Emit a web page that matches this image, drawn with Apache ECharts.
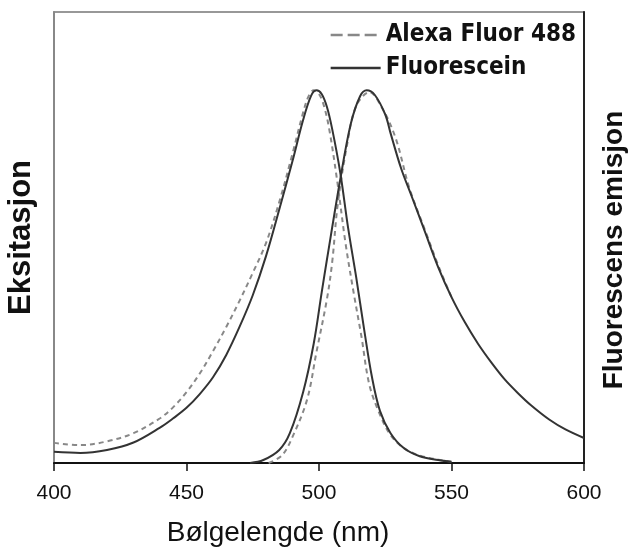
<!DOCTYPE html>
<html>
<head>
<meta charset="utf-8">
<script src="https://cdn.jsdelivr.net/npm/echarts@6/dist/echarts.min.js"></script>
<style>html,body{margin:0;padding:0;background:#fff}#c{width:628px;height:550px}</style>
</head>
<body>
<div id="c"></div>
<script>
// Wavelength ticks
const xTicks = [400, 450, 500, 550, 600];

// Fluorescein excitation (solid)
const fluorExNm  = [400,410,420,430,440,445,450,455,460,465,470,475,480,485,490,494,497,499,501,503,505,508,511,514,517,520,523,527,532,538,545,550];
const fluorExVal = [3.0,2.7,3.5,5.5,9.5,12,14.8,18.5,23,29,36.5,45,55.5,68,81,92,98.5,100,99,95.5,89.5,78,63,50,36,23,14,8,4,1.8,0.8,0.3];

// Alexa Fluor 488 excitation (dashed)
const alexaExNm  = [400,410,420,430,440,445,450,455,460,465,470,475,480,485,490,494,496,498,500,502,504,507,510,513,516,519,523,527,532,538,545,550];
const alexaExVal = [5.4,4.8,5.8,8,12,15,19,24,30,36.5,43.5,51,59,70,83,94,98.3,100,99,95.5,89,75,59,46,34,21,13,7.5,4,2,0.9,0.4];

// Fluorescein emission (solid)
const fluorEmNm  = [474,479,485,489,494,498,501,503,508,512,515.5,518,521,525,527,531,535,540,545,550,555,560,565,570,575,580,587,593,600];
const fluorEmVal = [0,0.8,3.5,8,19,32,45.7,54.6,76,91,98.4,100,98.8,93.5,88.5,79,71.5,62,52.5,44.5,37.8,32,27,22.5,18.8,15.5,11.6,9,6.7];

// Alexa Fluor 488 emission (dashed)
const alexaEmNm  = [481,486,490,495.5,499,503,505,507,510.5,514,519,524,529,534,540,545,550];
const alexaEmVal = [0,2,7,17,29.6,44,54,69,85,95.7,99.5,95,87,74,62.5,53,44.5];

const seriesNames = ['Alexa Fluor 488', 'Fluorescein'];

function pairs(xs, ys) { return xs.map((x, i) => [x, ys[i]]); }

const solid = { color: '#333333', width: 2, type: 'solid' };
const dashed = { color: '#888888', width: 2, type: [5, 4] };

const chart = echarts.init(document.getElementById('c'), null, { renderer: 'canvas' });
const FONT = 'Liberation Sans, Arial, sans-serif';
function line(name, xs, ys, style, z) {
  return { name: name, type: 'line', smooth: 0.35, showSymbol: false, symbol: 'none',
           data: pairs(xs, ys), lineStyle: style, itemStyle: { color: style.color }, z: z };
}
chart.setOption({
  animation: false,
  backgroundColor: '#ffffff',
  grid: { left: 54, right: 44, top: 12, bottom: 87, show: true, borderColor: '#777', borderWidth: 1.5,
          containLabel: false, outerBoundsMode: 'none' },
  legend: {
    orient: 'vertical', right: 52, top: 23, padding: 0,
    itemWidth: 50, itemHeight: 14, itemGap: 9,
    itemStyle: { opacity: 0 },
    data: [
      { name: seriesNames[0], lineStyle: { color: '#888', width: 2.5, type: [12, 5] } },
      { name: seriesNames[1], lineStyle: { color: '#333', width: 2.5, type: 'solid' } }
    ],
    textStyle: { fontFamily: 'DejaVu Sans Condensed, Liberation Sans', fontWeight: 'bold', fontSize: 24, color: '#111' }
  },
  xAxis: {
    type: 'value', min: xTicks[0], max: xTicks[xTicks.length - 1], interval: 50,
    axisLine: { show: true, lineStyle: { color: '#111', width: 2 } },
    axisTick: { show: true, inside: false, length: 8, lineStyle: { color: '#111', width: 1.5 } },
    axisLabel: { fontFamily: FONT, fontSize: 21, color: '#111', margin: 20 },
    splitLine: { show: false },
    name: 'Bølgelengde (nm)', nameLocation: 'middle', nameGap: 56,
    nameTextStyle: { fontFamily: FONT, fontSize: 28, color: '#111', padding: [0, 82, 0, 0] }
  },
  yAxis: [
    {
      type: 'value', min: 0, max: 121, position: 'left',
      axisLine: { show: true, lineStyle: { color: '#888', width: 2 } },
      axisTick: { show: false }, axisLabel: { show: false }, splitLine: { show: false },
      name: 'Eksitasjon', nameLocation: 'middle', nameGap: 17, nameRotate: 90,
      nameTextStyle: { fontFamily: FONT, fontSize: 31, fontWeight: 'bold', color: '#111' }
    },
    {
      type: 'value', min: 0, max: 121, position: 'right',
      axisLine: { show: true, lineStyle: { color: '#222', width: 2 } },
      axisTick: { show: false }, axisLabel: { show: false }, splitLine: { show: false },
      name: 'Fluorescens emisjon', nameLocation: 'middle', nameGap: 16, nameRotate: 90,
      nameTextStyle: { fontFamily: FONT, fontSize: 28, fontWeight: 'bold', color: '#111', padding: [0, 25, 0, 0] }
    }
  ],
  series: [
    line(seriesNames[0], alexaExNm, alexaExVal, dashed, 2),
    line(seriesNames[0], alexaEmNm, alexaEmVal, dashed, 2),
    line(seriesNames[1], fluorExNm, fluorExVal, solid, 3),
    line(seriesNames[1], fluorEmNm, fluorEmVal, solid, 3)
  ]
});
</script>
</body>
</html>
